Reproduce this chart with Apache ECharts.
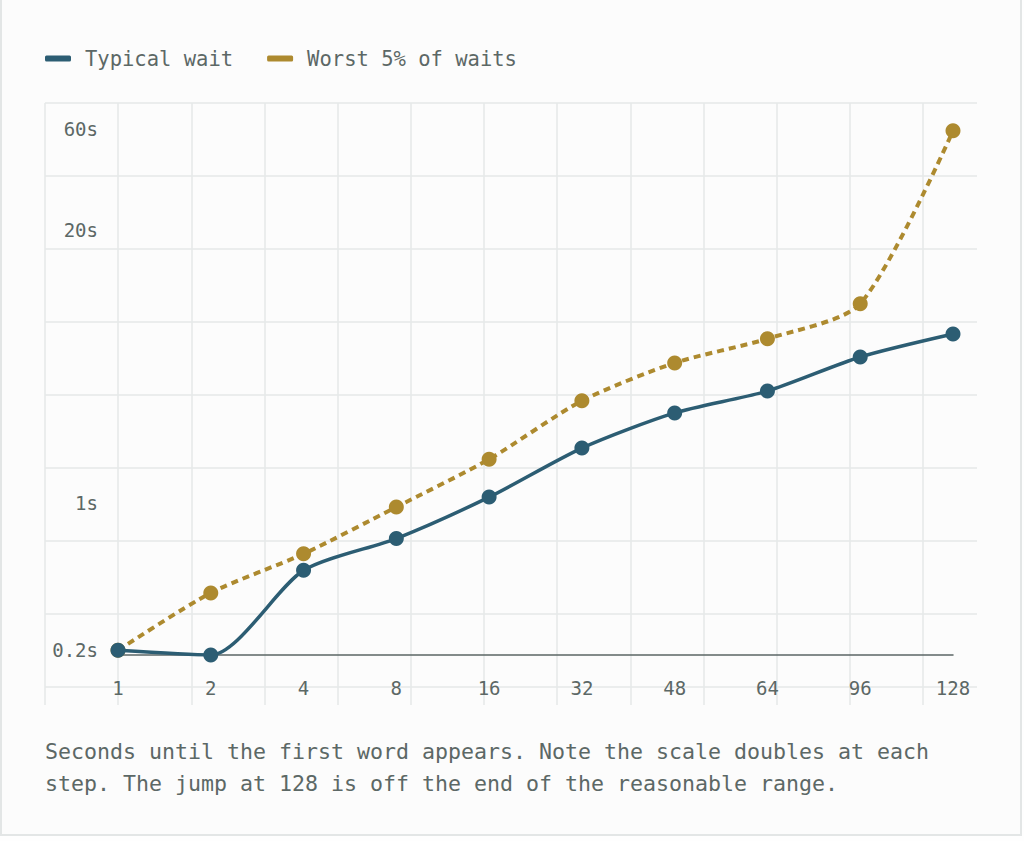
<!DOCTYPE html>
<html>
<head>
<meta charset="utf-8">
<title>Seconds until the first word appears</title>
<script src="https://cdn.jsdelivr.net/npm/echarts@6/dist/echarts.min.js"></script>
<style>
  html, body { margin: 0; padding: 0; background: #fefefe; }
  #card {
    position: absolute; left: 0; top: -2px; width: 1022px; height: 838px;
    box-sizing: border-box; border: 2px solid #e3e6e6; background: #fcfcfc;
  }
  #chart { position: absolute; left: 0; top: 0; width: 1024px; height: 841px; }
</style>
</head>
<body>
<div id="card"></div>
<div id="chart"></div>
<script>
// concurrent requests on the x axis, seconds on the y axis (log scale)
var counts = ['1', '2', '4', '8', '16', '32', '48', '64', '96', '128'];
var typicalWait = [0.2, 0.19, 0.48, 0.68, 1.07, 1.83, 2.69, 3.42, 4.96, 6.38];
var worstWait = [0.2, 0.375, 0.575, 0.96, 1.62, 3.07, 4.65, 6.06, 8.89, 59];

var yTickValues = [0.2, 1, 20, 60];
var yTickLabels = ['0.2s', '1s', '20s', '60s'];
var yMin = 0.19;
var yMax = 80;

var caption = 'Seconds until the first word appears. Note the scale doubles at each\n' +
  'step. The jump at 128 is off the end of the reasonable range.';

var teal = '#2c5d73';
var gold = '#ad8a2f';
var textGray = '#5c6866';
var gridGray = '#e6e9e9';
var mono = 'DejaVu Sans Mono';

function lg(v) {
  return Math.log10(v);
}

var chart = echarts.init(document.getElementById('chart'), null, { renderer: 'svg' });

var option = {
  animation: false,
  title: {
    text: caption,
    left: 45,
    top: 735,
    padding: 0,
    textStyle: {
      fontFamily: mono,
      fontSize: 21.6,
      fontWeight: 'normal',
      lineHeight: 32,
      color: textGray
    }
  },
  legend: {
    data: ['Typical wait', 'Worst 5% of waits'],
    left: 45,
    top: 48,
    padding: 0,
    icon: 'roundRect',
    itemWidth: 26,
    itemHeight: 6,
    itemGap: 34,
    textStyle: {
      fontFamily: mono,
      fontSize: 20.5,
      color: textGray,
      padding: [0, 0, 0, 9]
    }
  },
  grid: [
    // plot area
    { left: 118, right: 71, top: 103, bottom: 186, outerBoundsMode: 'none' },
    // square background grid
    { left: 45, top: 103, width: 932, height: 602, outerBoundsMode: 'none' }
  ],
  xAxis: [
    {
      type: 'category',
      gridIndex: 0,
      data: counts,
      boundaryGap: false,
      axisLine: { show: true, onZero: false, lineStyle: { color: '#5b6665', width: 1.5 } },
      axisTick: { show: false },
      splitLine: { show: false },
      axisLabel: {
        margin: 23,
        fontFamily: mono,
        fontSize: 19,
        color: textGray
      }
    },
    {
      type: 'value',
      gridIndex: 1,
      min: 0,
      max: 932,
      interval: 73.17,
      axisLine: { show: false },
      axisTick: { show: false },
      axisLabel: { show: false },
      splitLine: {
        show: true,
        showMaxLine: false,
        lineStyle: { color: gridGray, width: 1.5 }
      }
    }
  ],
  yAxis: [
    {
      type: 'value',
      gridIndex: 0,
      min: lg(yMin),
      max: lg(yMax),
      axisLine: { show: false },
      axisTick: { show: false },
      splitLine: { show: false },
      axisLabel: {
        customValues: yTickValues.map(lg),
        margin: 20,
        fontFamily: mono,
        fontSize: 19,
        color: textGray,
        formatter: function (val) {
          for (var i = 0; i < yTickValues.length; i++) {
            if (Math.abs(lg(yTickValues[i]) - val) < 1e-6) return yTickLabels[i];
          }
          return '';
        }
      }
    },
    {
      type: 'value',
      gridIndex: 1,
      inverse: true,
      min: 0,
      max: 602,
      interval: 73,
      axisLine: { show: false },
      axisTick: { show: false },
      axisLabel: { show: false },
      splitLine: {
        show: true,
        showMaxLine: false,
        lineStyle: { color: gridGray, width: 1.5 }
      }
    }
  ],
  series: [
    {
      name: 'Typical wait',
      type: 'line',
      xAxisIndex: 0,
      yAxisIndex: 0,
      data: typicalWait.map(lg),
      smooth: 0.25,
      symbol: 'circle',
      symbolSize: 15,
      z: 4,
      lineStyle: { color: teal, width: 3.5 },
      itemStyle: { color: teal }
    },
    {
      name: 'Worst 5% of waits',
      type: 'line',
      xAxisIndex: 0,
      yAxisIndex: 0,
      data: worstWait.map(lg),
      smooth: 0.25,
      symbol: 'circle',
      symbolSize: 15,
      z: 3,
      lineStyle: { color: gold, width: 4, type: [7, 5] },
      itemStyle: { color: gold }
    }
  ]
};

chart.setOption(option);
</script>
</body>
</html>
